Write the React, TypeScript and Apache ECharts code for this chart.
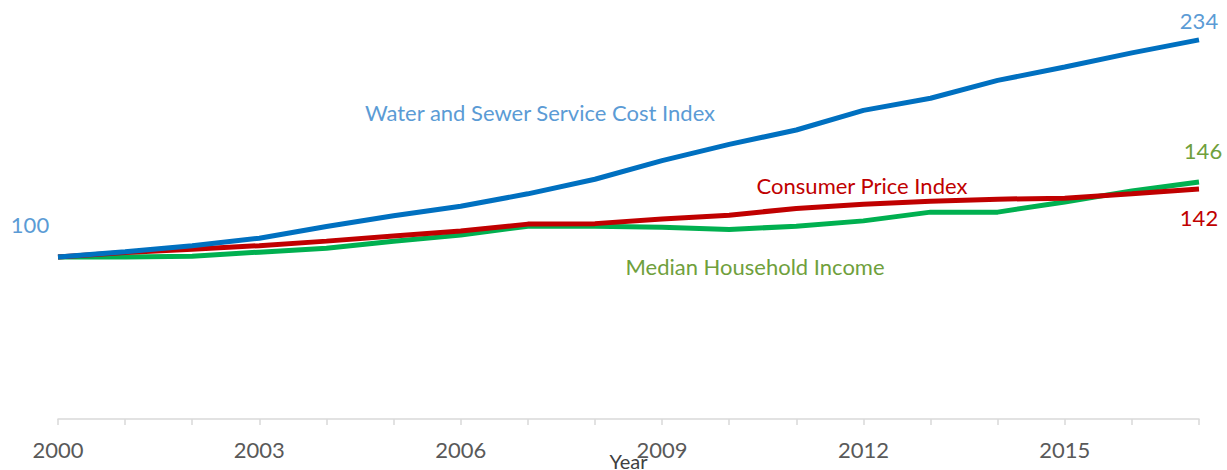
import React, { useEffect, useRef } from "react";
import * as echarts from "echarts";

const years = ["2000","2001","2002","2003","2004","2005","2006","2007","2008","2009","2010","2011","2012","2013","2014","2015","2016","2017"];
const waterSewer = [100, 103.3, 107, 111.6, 118.8, 125.5, 131.3, 139, 148, 159.5, 169.5, 178.4, 190.5, 198, 209, 217.3, 226, 234];
const cpi = [100, 102.8, 104.8, 107, 109.8, 113, 116, 120.3, 120.6, 123.5, 125.8, 130, 132.6, 134.4, 135.7, 136.3, 139, 142];
const income = [100, 100, 100.4, 103, 105.4, 109.7, 113.5, 119, 119, 118.4, 117, 119, 122.3, 127.7, 127.7, 134, 140.8, 146.3];

const FONT = "Lato";
const FS = 22;
const BLUE = "#0070C0";
const RED = "#C00000";
const GREEN = "#00B050";
const BLUE_TXT = "#5B9BD5";
const GREEN_TXT = "#6FA03C";

const fmt = (p: any) => Math.round(p.value).toString();

function labelled(arr: number[], labels: Record<number, any>) {
  return arr.map((v, i) =>
    labels[i] ? { value: v, label: { show: true, fontFamily: FONT, fontSize: FS, formatter: fmt, ...labels[i] } } : v
  );
}

export default function App() {
  const ref = useRef<HTMLDivElement>(null);
  useEffect(() => {
    const chart = echarts.init(ref.current!, null, { renderer: "svg" });
    const lineCommon = {
      type: "line",
      symbol: "circle",
      symbolSize: 0.01,
      showSymbol: true,
      label: { show: false },
      emphasis: { disabled: true },
    };
    chart.setOption({
      animation: false,
      textStyle: { fontFamily: FONT },
      grid: { left: 58, right: 28, top: 14, height: 405, containLabel: false, outerBoundsMode: "none" },
      xAxis: {
        type: "category",
        data: years,
        boundaryGap: false,
        name: "Year",
        nameLocation: "middle",
        nameGap: 32,
        nameMoveOverlap: false,
        nameTextStyle: { fontFamily: FONT, fontSize: 20, color: "#404040", lineHeight: 20 },
        axisLine: { lineStyle: { color: "#d9d9d9", width: 1.5 } },
        axisTick: { show: true, interval: 0, length: 6, lineStyle: { color: "#d9d9d9", width: 1.5 } },
        axisLabel: { interval: 2, fontFamily: FONT, fontSize: FS, color: "#595959", margin: 19 },
        splitLine: { show: false },
      },
      yAxis: {
        type: "value",
        min: 0,
        max: 250,
        show: false,
        splitLine: { show: false },
      },
      series: [
        {
          ...lineCommon,
          name: "Water and Sewer Service Cost Index",
          data: labelled(waterSewer, {
            0: { position: "top", offset: [-28, -16], color: BLUE_TXT },
            17: { position: "top", offset: [0, -3], color: BLUE_TXT },
          }),
          lineStyle: { color: BLUE, width: 5 },
          itemStyle: { color: BLUE },
          z: 3,
        },
        {
          ...lineCommon,
          name: "Median Household Income",
          data: labelled(income, {
            17: { position: "top", offset: [4, -15], color: GREEN_TXT },
          }),
          lineStyle: { color: GREEN, width: 5 },
          itemStyle: { color: GREEN },
          z: 1,
        },
        {
          ...lineCommon,
          name: "Consumer Price Index",
          data: labelled(cpi, {
            17: { position: "bottom", offset: [0, 13], color: RED },
          }),
          lineStyle: { color: RED, width: 5 },
          itemStyle: { color: RED },
          z: 2,
        },
      ],
      graphic: [
        { type: "text", x: 540, y: 112, style: { text: "Water and Sewer Service Cost Index", fill: BLUE_TXT, font: `${FS}px ${FONT}`, textAlign: "center", textVerticalAlign: "middle" } },
        { type: "text", x: 862, y: 185, style: { text: "Consumer Price Index", fill: RED, font: `${FS}px ${FONT}`, textAlign: "center", textVerticalAlign: "middle" } },
        { type: "text", x: 755, y: 266, style: { text: "Median Household Income", fill: GREEN_TXT, font: `${FS}px ${FONT}`, textAlign: "center", textVerticalAlign: "middle" } },
      ],
    });
    return () => chart.dispose();
  }, []);
  return <div ref={ref} style={{ position: "fixed", left: 0, top: 0, width: 1227, height: 470, background: "#fff" }} />;
}
